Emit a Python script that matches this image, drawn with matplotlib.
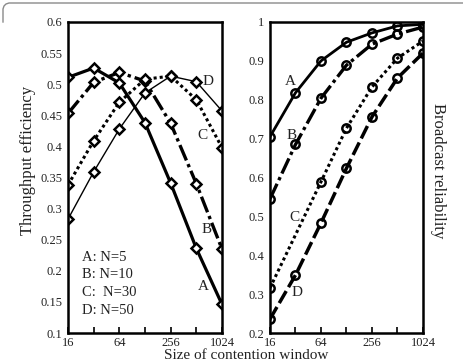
import numpy as np
import matplotlib
matplotlib.use("Agg")
import matplotlib.pyplot as plt
from matplotlib.lines import Line2D
from matplotlib.ticker import NullFormatter

plt.rcParams['font.family'] = ['Liberation Serif', 'DejaVu Serif']

# contention window sizes
cw = [16, 32, 64, 128, 256, 512, 1024]
xtick_major = [16, 64, 256, 1024]
xtick_minor = [32, 128, 512]

# throughput efficiency (left)
thr_A = [0.511, 0.526, 0.502, 0.438, 0.341, 0.236, 0.146]
thr_B = [0.453, 0.503, 0.519, 0.505, 0.437, 0.340, 0.235]
thr_C = [0.338, 0.409, 0.471, 0.508, 0.513, 0.475, 0.398]
thr_D = [0.283, 0.359, 0.428, 0.486, 0.513, 0.504, 0.457]

# broadcast reliability (right), C has no point at 32
rel_A = [0.705, 0.818, 0.900, 0.948, 0.972, 0.990, 0.994]
rel_B = [0.545, 0.685, 0.804, 0.889, 0.943, 0.969, 0.987]
cw_C = [16, 64, 128, 256, 512, 1024]
rel_C = [0.316, 0.589, 0.727, 0.833, 0.907, 0.951]
rel_D = [0.236, 0.349, 0.483, 0.624, 0.756, 0.856, 0.920]

legend_lines = ["A: N=5", "B: N=10", "C:  N=30", "D: N=50"]

W, H = 464, 364
fig = plt.figure(figsize=(W / 100, H / 100), dpi=100)

def px(x0, y0, x1, y1):
    return [x0 / W, 1 - y1 / H, (x1 - x0) / W, (y1 - y0) / H]

ax1 = fig.add_axes(px(68, 22, 222, 333))
ax2 = fig.add_axes(px(270, 22, 423, 333))

ink = 'black'
dd = (5, 1.2, 1, 1.2)

# left panel
mk = dict(marker='D', markersize=5.5, markerfacecolor='white', markeredgecolor=ink, markeredgewidth=1.8, color=ink)
ax1.plot(cw, thr_A, lw=2.3, **mk)
ax1.plot(cw, thr_B, lw=2.4, dashes=dd, **mk)
ax1.plot(cw, thr_C, lw=2.2, dashes=(1, 1), **mk)
ax1.plot(cw, thr_D, lw=1.0, **mk)

# right panel
mk2 = dict(marker='o', markersize=6, markerfacecolor='none', markeredgecolor=ink, markeredgewidth=1.8, color=ink)
ax2.plot(cw, rel_A, lw=2.0, **mk2)
ax2.plot(cw, rel_B, lw=2.4, dashes=dd, **mk2)
ax2.plot(cw_C, rel_C, lw=2.2, dashes=(1, 1), **mk2)
ax2.plot(cw, rel_D, lw=2.5, dashes=(4, 1.3), **mk2)

for ax in (ax1, ax2):
    ax.set_xscale('log', base=2)
    ax.set_xlim(16, 1024)
    ax.set_xticks(xtick_major)
    ax.set_xticklabels([str(v) for v in xtick_major])
    ax.set_xticks(xtick_minor, minor=True)
    ax.xaxis.set_minor_formatter(NullFormatter())
    ax.tick_params(axis='x', which='both', direction='in', length=4, width=1.2, labelsize=9, pad=3)
    ax.tick_params(axis='y', length=0, labelsize=9, pad=4)
    for s in ax.spines.values():
        s.set_linewidth(1.8)
    for t in ax.get_xticklabels() + ax.get_yticklabels():
        t.set_color('#222222')

ax1.set_ylim(0.1, 0.6)
ax1.set_yticks(np.arange(0.1, 0.601, 0.05))
ax1.set_yticklabels(['0.1', '0.15', '0.2', '0.25', '0.3', '0.35', '0.4', '0.45', '0.5', '0.55', '0.6'])
ax2.set_ylim(0.2, 1.0)
ax2.set_yticks(np.arange(0.2, 1.001, 0.1))
ax2.set_yticklabels(['0.2', '0.3', '0.4', '0.5', '0.6', '0.7', '0.8', '0.9', '1'])

# curve letters
lab = dict(fontsize=11, ha='center', va='center', color='#222222')
ax1.text(700, 0.504, 'D', **lab)
ax1.text(596, 0.418, 'C', **lab)
ax1.text(667, 0.266, 'B', **lab)
ax1.text(613, 0.174, 'A', **lab)
ax2.text(27.5, 0.848, 'A', **lab)
ax2.text(29, 0.709, 'B', **lab)
ax2.text(30.7, 0.498, 'C', **lab)
ax2.text(33.3, 0.303, 'D', **lab)

for i, s in enumerate(legend_lines):
    ax1.text(23.4, 0.222 - i * 0.0285, s, fontsize=10.5, ha='left', va='center', color='#222222')

fig.text(28 / W, 1 - 160 / H, 'Throughput efficiency', rotation=90, ha='center', va='center', fontsize=12, color='#222222')
fig.text(438 / W, 1 - 171 / H, 'Broadcast reliability', rotation=270, ha='center', va='center', fontsize=12, color='#222222')
fig.text(246 / W, 1 - 349 / H, 'Size of contention window', ha='center', va='top', fontsize=11, color='#222222')

# frame corner at the top left
fx = [3, 3, 4, 6, 9, 464]
fy = [22, 9, 6, 4, 3, 3]
fig.add_artist(Line2D([x / W for x in fx], [1 - y / H for y in fy], transform=fig.transFigure, color='#8a8a8a', lw=1.0))

fig.savefig('out.png', dpi=100)
